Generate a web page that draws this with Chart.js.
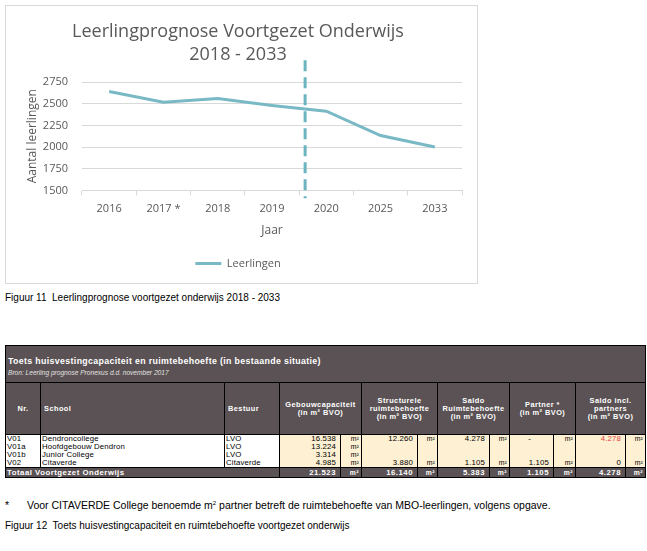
<!DOCTYPE html>
<html lang="nl">
<head>
<meta charset="utf-8">
<title>Leerlingprognose Voortgezet Onderwijs</title>
<script src="https://cdn.jsdelivr.net/npm/chart.js@4.4.1/dist/chart.umd.min.js"></script>
<style>
  html, body { margin: 0; padding: 0; background: #fff; }
  body { width: 647px; height: 551px; position: relative; overflow: hidden;
         font-family: 'Liberation Sans', Arial, sans-serif; color: #000; }
  #grafiek { position: absolute; left: 5px; top: 5px; width: 473px; height: 279px;
             border: 1px solid #d9d9d9; box-sizing: border-box; }
  #grafiek canvas { display: block; }
  .bijschrift { position: absolute; left: 5px; font-size: 10px; white-space: nowrap; }
  #fig11 { top: 292px; }
  #fig12 { top: 520px; }
  #voetnoot { position: absolute; left: 5px; top: 499px; font-size: 10.5px; white-space: nowrap; }
  #voetnoot .ster { display: inline-block; width: 22px; }
  #voetnoot sup { font-size: 6px; vertical-align: 4px; }

  /* ── Tabel ─────────────────────────────────────────────── */
  #toets { position: absolute; left: 5px; top: 345px; width: 640px;
           border-collapse: collapse; table-layout: fixed; border: 1px solid #000; }
  #toets td, #toets th { padding: 0; overflow: hidden; white-space: nowrap; }
  .donker { background: #5a5254; color: #fff; }
  .t1 td { height: 14px; font-size: 8.8px; font-weight: bold; letter-spacing: 0.35px;
           padding: 8px 0 0 2px !important; vertical-align: middle; }
  .t2 td { height: 13px; font-size: 6.6px; font-style: italic; color: #e4e0e0;
           padding: 1px 0 0 2px !important; vertical-align: top; }
  .hd th { height: 51px; font-size: 7.4px; font-weight: bold; letter-spacing: 0.45px;
           line-height: 8px; text-align: center; border: 1px solid #000; }
  .hd th.l { text-align: left; padding-left: 3px !important; }
  .rij td { height: 8px; font-size: 7.8px; line-height: 8px; letter-spacing: 0.15px;
            border-left: 1px solid #000; border-right: 1px solid #000; }
  .rij td.tekst { background: #fff; padding-left: 1px !important; }
  .rij td.w { background: #fdf0d3; text-align: right; padding-right: 4px !important; }
  .rij td.m { background: #fdf0d3; text-align: right; padding-right: 2px !important; font-size: 6.8px; }
  .rood { color: #e8423f; }
  .totaal td { height: 9px; font-size: 7.8px; line-height: 9px; font-weight: bold; letter-spacing: 0.5px;
               border: 1px solid #000; }
  .totaal td.w { text-align: right; padding-right: 4px !important; }
  .totaal td.m { text-align: right; padding-right: 2px !important; font-size: 6.8px; }
</style>
</head>
<body>

<div id="grafiek"><canvas id="prognose" width="471" height="277"></canvas></div>
<div class="bijschrift" id="fig11">Figuur 11&nbsp; Leerlingprognose voortgezet onderwijs 2018 - 2033</div>

<table id="toets">
  <colgroup>
    <col style="width:35px"><col style="width:184px"><col style="width:55px">
    <col style="width:61px"><col style="width:21px">
    <col style="width:56px"><col style="width:20px">
    <col style="width:52px"><col style="width:20px">
    <col style="width:44px"><col style="width:22px">
    <col style="width:50px"><col style="width:20px">
  </colgroup>
  <tbody id="toets-body"></tbody>
</table>

<div id="voetnoot"><span class="ster">*</span>Voor CITAVERDE College benoemde m<sup>2</sup> partner betreft de ruimtebehoefte van MBO-leerlingen, volgens opgave.</div>
<div class="bijschrift" id="fig12">Figuur 12&nbsp; Toets huisvestingcapaciteit en ruimtebehoefte voortgezet onderwijs</div>

<script>
/* ── Data: grafiek ────────────────────────────────────────── */

const jaren = ['2016', '2017 *', '2018', '2019', '2020', '2025', '2033'];
const leerlingen = [2640, 2517, 2560, 2480, 2413, 2133, 2000];
const yMin = 1500;
const yMax = 2750;
const yStap = 250;

// stippellijn tussen 2019 en 2020 (positie in categorie-eenheden)
const grensPositie = 3.61;
const grensBereik = [3000, 1410];

/* ── Data: tabel ──────────────────────────────────────────── */

const nummers     = ['V01', 'V01a', 'V01b', 'V02'];
const scholen     = ['Dendroncollege', 'Hoofdgebouw Dendron', 'Junior College', 'Citaverde'];
const besturen    = ['LVO', 'LVO', 'LVO', 'Citaverde'];
const gebouwCap   = ['16.538', '13.224', '3.314', '4.985'];
const structureel = ['12.260', '', '', '3.880'];
const saldo       = ['4.278', '', '', '1.105'];
const partner     = ['-', '', '', '1.105'];
const saldoIncl   = ['4.278', '', '', '0'];
const totalen     = ['21.523', '16.140', '5.383', '1.105', '4.278'];

const koppen = [
  'Gebouwcapaciteit<br>(in m² BVO)',
  'Structurele<br>ruimtebehoefte<br>(in m² BVO)',
  'Saldo<br>Ruimtebehoefte<br>(in m² BVO)',
  'Partner *<br>(in m² BVO)',
  'Saldo incl.<br>partners<br>(in m² BVO)',
];

/* ── Tabel opbouwen ───────────────────────────────────────── */

function bouwTabel() {
  const body = document.getElementById('toets-body');
  let html = '';
  html += '<tr class="t1 donker"><td colspan="13">Toets huisvestingcapaciteit en ruimtebehoefte (in bestaande situatie)</td></tr>';
  html += '<tr class="t2 donker"><td colspan="13">Bron: Leerling prognose Pronexus d.d. november 2017</td></tr>';
  html += '<tr class="hd donker"><th>Nr.</th><th class="l">School</th><th class="l">Bestuur</th>';
  koppen.forEach((k) => { html += `<th colspan="2">${k}</th>`; });
  html += '</tr>';

  nummers.forEach((nr, i) => {
    const cel = (v, extra) => `<td class="w${extra || ''}">${v}</td><td class="m">${v ? 'm²' : ''}</td>`;
    html += '<tr class="rij">';
    html += `<td class="tekst">${nr}</td><td class="tekst">${scholen[i]}</td><td class="tekst">${besturen[i]}</td>`;
    html += cel(gebouwCap[i]);
    html += cel(structureel[i]);
    html += cel(saldo[i]);
    html += `<td class="w" style="text-align:${partner[i] === '-' ? 'center' : 'right'}">${partner[i]}</td><td class="m">${partner[i] ? 'm²' : ''}</td>`;
    html += cel(saldoIncl[i], i === 0 ? ' rood' : '');
    html += '</tr>';
  });

  html += '<tr class="totaal donker"><td colspan="3" style="padding-left:1px">Totaal Voortgezet Onderwijs</td>';
  totalen.forEach((t) => { html += `<td class="w">${t}</td><td class="m">m²</td>`; });
  html += '</tr>';
  body.innerHTML = html;
}

/* ── Grafiek ──────────────────────────────────────────────── */

const lijnKleur = '#78b9c5';
const grensKleur = '#6cb4c0';
const tekstKleur = '#595959';
const rasterKleur = '#d9d9d9';
const lettertype = "'Open Sans', sans-serif";

function tekenGrafiek() {
  const canvas = document.getElementById('prognose');
  new Chart(canvas, {
    type: 'line',
    data: {
      labels: jaren,
      datasets: [
        {
          label: 'Leerlingen',
          data: leerlingen,
          borderColor: lijnKleur,
          backgroundColor: lijnKleur,
          borderWidth: 3,
          pointRadius: 0,
          tension: 0,
        },
        {
          label: 'grens',
          data: grensBereik.map((y) => ({ x: grensPositie, y })),
          xAxisID: 'xGrens',
          borderColor: grensKleur,
          borderWidth: 3,
          borderDash: [11, 6],
          pointRadius: 0,
          clip: false,
        },
      ],
    },
    options: {
      responsive: false,
      animation: false,
      devicePixelRatio: 1,
      layout: { padding: { top: 4, left: 8, right: 15, bottom: 4 } },
      plugins: {
        title: {
          display: true,
          text: ['Leerlingprognose Voortgezet Onderwijs', '2018 - 2033'],
          color: tekstKleur,
          font: { family: lettertype, size: 18, weight: 'normal', lineHeight: 1.25 },
          padding: { top: 11, bottom: 16 },
        },
        legend: {
          position: 'bottom',
          labels: {
            filter: (item) => item.datasetIndex === 0,
            usePointStyle: true,
            pointStyle: 'line',
            pointStyleWidth: 26,
            color: tekstKleur,
            font: { family: lettertype, size: 11 },
            padding: 10,
          },
        },
        tooltip: { enabled: false },
      },
      scales: {
        x: {
          offset: true,
          border: { color: rasterKleur },
          grid: { offset: true, drawOnChartArea: false, drawTicks: true, tickLength: 5, color: rasterKleur },
          ticks: { color: tekstKleur, font: { family: lettertype, size: 11 }, padding: 7, maxRotation: 0 },
          title: {
            display: true,
            text: 'Jaar',
            color: tekstKleur,
            font: { family: lettertype, size: 12 },
            padding: { top: 1, bottom: 10 },
          },
        },
        xGrens: {
          type: 'linear',
          display: false,
          min: -0.5,
          max: jaren.length - 0.5,
        },
        y: {
          min: yMin,
          max: yMax,
          border: { display: false },
          grid: { color: rasterKleur, drawTicks: false },
          ticks: {
            stepSize: yStap,
            color: tekstKleur,
            font: { family: lettertype, size: 11 },
            padding: 14,
            callback: (v) => String(v),
          },
          title: {
            display: true,
            text: 'Aantal leerlingen',
            color: tekstKleur,
            font: { family: lettertype, size: 12 },
            padding: { top: 11, bottom: 4 },
          },
          afterFit: (scale) => { scale.width = 68; },
        },
      },
    },
  });
}

bouwTabel();
tekenGrafiek();
</script>
</body>
</html>
